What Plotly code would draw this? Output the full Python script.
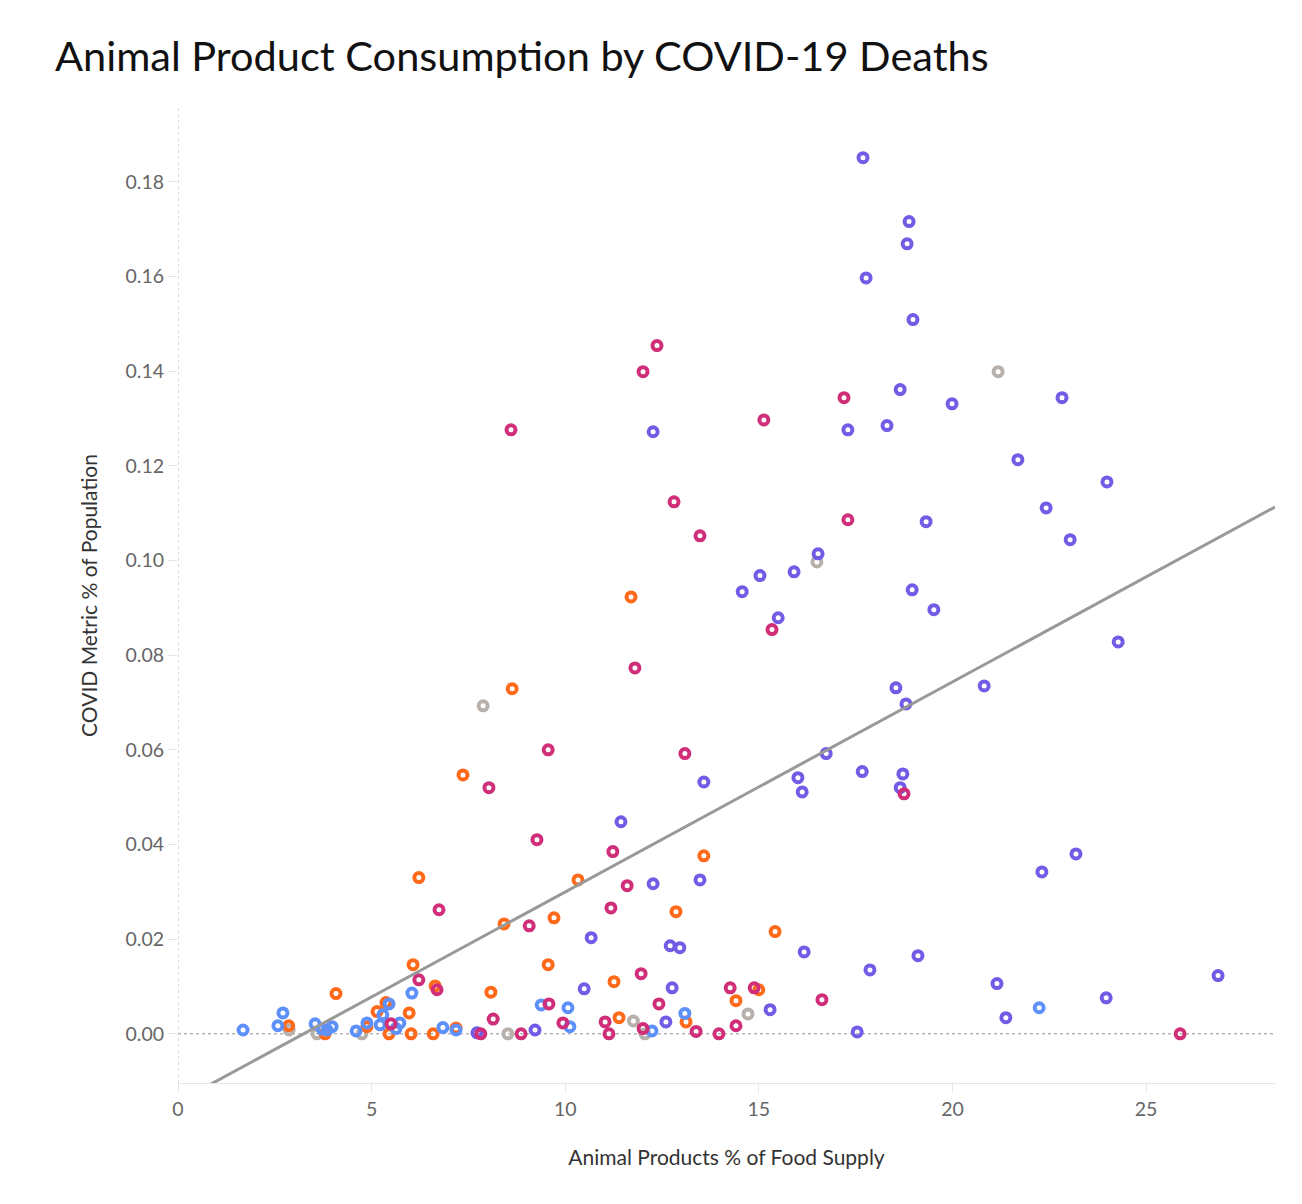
import plotly.graph_objects as go

# ---- data ----
purple_x = [17.69, 18.88, 18.83, 17.77, 18.98, 18.65, 19.99, 22.83, 18.31, 17.30, 12.27, 21.69,
            23.99, 22.42, 19.32, 23.04, 16.53, 15.91, 15.03, 14.57, 18.96, 19.52, 15.50, 24.28,
            18.54, 20.82, 18.80, 16.74, 13.58, 17.67, 18.72, 16.01, 18.65, 16.12, 11.44, 23.19,
            22.31, 12.27, 13.48, 10.67, 12.71, 12.96, 16.17, 19.11, 17.87, 26.86, 12.76, 10.49,
            21.15, 23.97, 15.29, 21.38, 12.60, 17.54, 9.22, 7.72]
purple_y = [0.1851, 0.1716, 0.1669, 0.1597, 0.1509, 0.1361, 0.1331, 0.1344, 0.1285, 0.1276, 0.1272, 0.1213,
            0.1166, 0.1111, 0.1082, 0.1044, 0.1014, 0.0976, 0.0968, 0.0934, 0.0938, 0.0896, 0.0879, 0.0828,
            0.0731, 0.0735, 0.0697, 0.0592, 0.0532, 0.0554, 0.0549, 0.0541, 0.0520, 0.0511, 0.0448, 0.0380,
            0.0342, 0.0317, 0.0325, 0.0203, 0.0186, 0.0182, 0.0173, 0.0165, 0.0135, 0.0123, 0.0097, 0.0095,
            0.0106, 0.0076, 0.0051, 0.0034, 0.0025, 0.0004, 0.0008, 0.0002]

magenta_x = [12.37, 12.01, 8.60, 15.13, 17.20, 12.81, 17.30, 13.48, 15.34, 11.80, 9.56, 13.09,
             8.03, 18.75, 9.27, 11.23, 11.60, 6.74, 11.18, 9.07, 11.96, 6.22, 6.69, 14.26,
             14.88, 16.63, 12.42, 9.58, 8.14, 9.94, 11.03, 11.13, 12.01, 13.38, 13.97, 14.41,
             8.86, 7.82, 25.88, 5.50]
magenta_y = [0.1454, 0.1399, 0.1276, 0.1297, 0.1344, 0.1124, 0.1086, 0.1052, 0.0854, 0.0773, 0.0600, 0.0592,
             0.0520, 0.0507, 0.0410, 0.0385, 0.0313, 0.0262, 0.0266, 0.0228, 0.0127, 0.0114, 0.0093, 0.0097,
             0.0097, 0.0072, 0.0063, 0.0063, 0.0031, 0.0023, 0.0025, 0.0, 0.0011, 0.0005, 0.0, 0.0017,
             0.0, 0.0, 0.0, 0.0021]

orange_x = [11.70, 8.63, 7.36, 6.22, 10.33, 13.58, 12.86, 8.42, 9.71, 15.42, 9.56, 6.07,
            11.26, 8.08, 4.08, 6.64, 15.00, 14.41, 11.39, 13.12, 5.97, 5.14, 5.37, 4.88,
            2.86, 6.02, 6.59, 5.45, 3.80, 7.18]
orange_y = [0.0923, 0.0729, 0.0547, 0.0330, 0.0325, 0.0376, 0.0258, 0.0232, 0.0245, 0.0216, 0.0146, 0.0146,
            0.0110, 0.0088, 0.0085, 0.0101, 0.0093, 0.0070, 0.0034, 0.0025, 0.0044, 0.0047, 0.0066, 0.0015,
            0.0017, 0.0, 0.0, 0.0, 0.0, 0.0012]

grey_x = [21.18, 16.50, 7.88, 14.72, 11.76, 12.06, 8.52, 4.75, 3.59, 2.87]
grey_y = [0.1399, 0.0997, 0.0693, 0.0042, 0.0027, 0.0, 0.0, 0.0, 0.0, 0.0008]

blue_x = [1.68, 2.58, 2.71, 3.54, 3.72, 3.85, 3.98, 4.60, 4.88, 5.22, 5.29, 5.45,
          5.63, 5.73, 6.04, 6.84, 7.18, 9.38, 10.07, 10.12, 13.09, 12.24, 22.24]
blue_y = [0.0008, 0.0017, 0.0044, 0.0021, 0.0010, 0.0008, 0.0015, 0.0006, 0.0023, 0.0019, 0.0040, 0.0063,
          0.0011, 0.0023, 0.0086, 0.0013, 0.0008, 0.0061, 0.0055, 0.0015, 0.0043, 0.0006, 0.0055]

trend_slope = 0.004437
trend_intercept = -0.0144

x_range = [0, 28.33]
y_range = [-0.0104, 0.1956]

# ---- figure ----
fig = go.Figure()

groups = [
    (grey_x, grey_y, "#B8B0AB"),
    (orange_x, orange_y, "#FF6A1A"),
    (purple_x, purple_y, "#735BE6"),
    (blue_x, blue_y, "#5E90FA"),
    (magenta_x, magenta_y, "#D12E7A"),
]
for gx, gy, col in groups:
    fig.add_trace(go.Scatter(
        x=gx, y=gy, mode="markers",
        marker=dict(symbol="circle-open", size=9, color=col, line=dict(width=4, color=col)),
        showlegend=False, hoverinfo="x+y"))

trend_x = [x_range[0], x_range[1]]
trend_y = [trend_slope * v + trend_intercept for v in trend_x]
fig.add_trace(go.Scatter(x=trend_x, y=trend_y, mode="lines",
                         line=dict(color="#999999", width=3), showlegend=False, hoverinfo="skip"))

# dotted zero reference lines
fig.add_shape(type="line", xref="paper", yref="y", x0=0, x1=1, y0=0, y1=0,
              line=dict(color="#B5B5B5", width=1.5, dash="dot"), layer="below")
fig.add_shape(type="line", xref="x", yref="paper", x0=0, x1=0, y0=0, y1=1,
              line=dict(color="#C5C5C5", width=1.2, dash="dot"), layer="below")

fig.update_layout(
    width=1302, height=1204,
    margin=dict(l=178, r=27, t=108, b=121),
    paper_bgcolor="white", plot_bgcolor="white",
    font=dict(family="Lato", color="#666666", size=19),
    title=dict(text="Animal Product Consumption by COVID-19 Deaths",
               x=55 / 1302, xanchor="left", xref="container",
               y=1 - 56 / 1204, yanchor="middle", yref="container",
               font=dict(family="Lato", size=41.5, color="#111111")),
)
fig.update_xaxes(range=x_range, dtick=5, tick0=0, showgrid=False, zeroline=False,
                 showline=True, linecolor="#E6E6E6", linewidth=1,
                 ticks="outside", ticklen=9, tickcolor="#E6E6E6",
                 tickfont=dict(size=19.5, color="#666666"),
                 title=dict(text="Animal Products % of Food Supply", standoff=30,
                            font=dict(size=21, color="#333333")))
fig.update_yaxes(range=y_range, dtick=0.02, tick0=0, tickformat=".2f", showgrid=False, zeroline=False,
                 showline=False, ticks="outside", ticklen=9, tickcolor="#E6E6E6",
                 tickfont=dict(size=19.5, color="#666666"),
                 title=dict(text="COVID Metric % of Population", standoff=22,
                            font=dict(size=21, color="#333333")))

fig.write_html("out.html", config={"displayModeBar": False},
               post_script="document.body.style.margin='0';")
